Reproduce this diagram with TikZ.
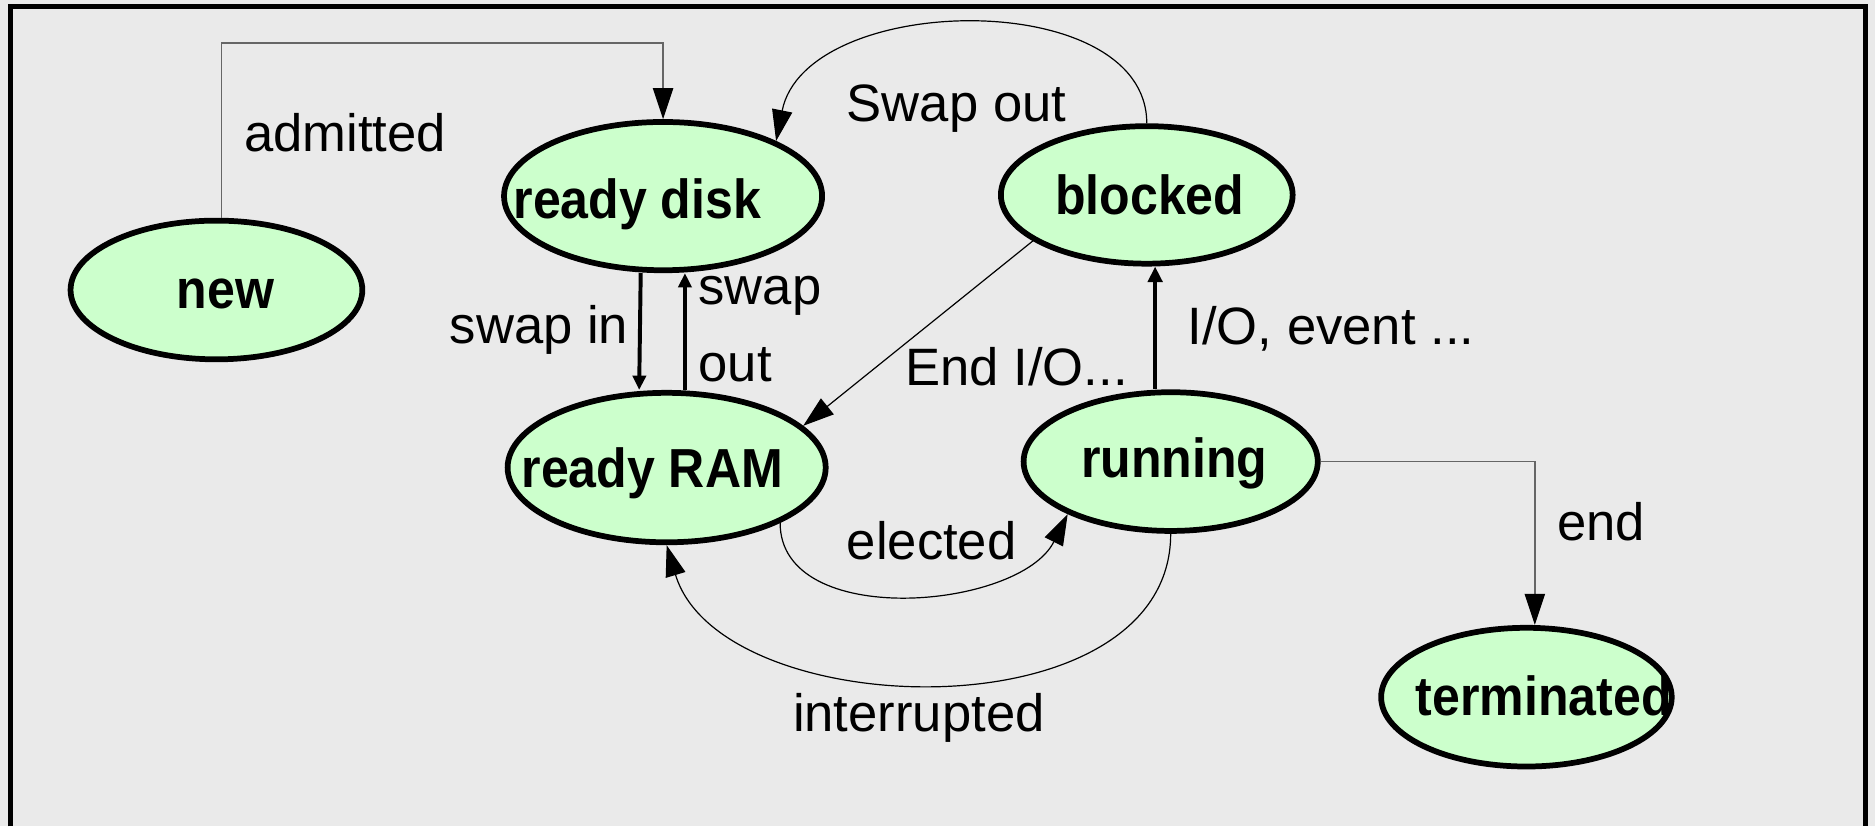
\documentclass[tikz,border=0pt]{standalone}
\usepackage{fontspec}
\setmainfont{Liberation Sans}
\newfontfamily\statefont[FakeStretch=0.91]{Liberation Sans Bold}
\usetikzlibrary{shapes.geometric,arrows.meta}
\definecolor{panelbg}{HTML}{EAEAEA}
\definecolor{statefill}{HTML}{CCFFCC}
\begin{document}
\begin{tikzpicture}[x=1pt,y=-1pt,
  state/.style={ellipse, draw=black, line width=4.8pt, fill=statefill, inner sep=0pt},
  statename/.style={anchor=base, inner sep=0pt, font=\fontsize{46}{52}\statefont},
  lbl/.style={anchor=base west, inner sep=0pt, font=\fontsize{44}{50}\selectfont},
  lightedge/.style={draw=black, line width=1pt, -{Triangle[length=26pt,width=17pt]}},
  wireedge/.style={draw=black!60, line width=1.2pt, -{Triangle[length=26pt,width=17pt,color=black]}},
  heavyedge/.style={draw=black, line width=3.3pt, -{Triangle[length=12pt,width=11pt]}},
]
% canvas and frame
\useasboundingbox (0,0) rectangle (1568,691);
\fill[panelbg] (0,0) rectangle (1568,691);
\draw[line width=4.2pt, line join=miter] (8.4,691) -- (8.4,5.4) -- (1559.7,5.4) -- (1559.7,691);

% states
\node[state, minimum width=244pt, minimum height=116pt] (new) at (181,242.5) {};
\node[state, minimum width=266pt, minimum height=124pt] (rdisk) at (554.5,164) {};
\node[state, minimum width=244pt, minimum height=115pt] (blocked) at (959,163) {};
\node[state, minimum width=266pt, minimum height=125pt] (rram) at (557.5,391) {};
\node[state, minimum width=246pt, minimum height=116pt] (running) at (979,386) {};
\node[state, minimum width=243pt, minimum height=116pt] (terminated) at (1276.5,583) {};

\node[statename] (new-t) at (188.5,257.6) {new};
\node[statename] (rdisk-t) at (533,183) {ready disk};
\node[statename] (blocked-t) at (961.5,179) {blocked};
\node[statename] (rram-t) at (545.5,407.5) {ready RAM};
\node[statename] (running-t) at (982,399) {running};
\node[statename] (terminated-t) at (1291,598.5) {terminated};

% transitions
\coordinate (admit-top) at (0,36);
\draw[wireedge] ([xshift=4pt]new.north) -- ([xshift=4pt]new.north |- admit-top) -| (rdisk.north);
\draw[heavyedge] ([xshift=-18.7pt]rdisk.south) -- ([xshift=-23pt]rram.north);
\draw[heavyedge] ([xshift=15.3pt]rram.north) -- ([xshift=18.3pt]rdisk.south);
\draw[lightedge] (blocked.north) .. controls +(0,-115) and +(25,-125) .. (rdisk.26);
\draw[lightedge] (blocked.-158) -- (rram.17);
\draw[heavyedge, -{Triangle[length=13pt,width=12pt]}] ([xshift=-13pt]running.north) -- ([xshift=7pt]blocked.south);
\draw[lightedge] (rram.-26) .. controls +(0,90) and +(-40,80) .. (running.-153);
\draw[lightedge] (running.south) .. controls +(0,170) and +(45,150) .. (rram.south);
\draw[wireedge] (running.east) -| ([xshift=7pt]terminated.north);

% labels
\node[lbl] (l-admitted) at (204,126.8) {admitted};
\node[lbl] (l-swapout) at (708,101.8) {Swap out};
\node[lbl] (l-swapin) at (376,287) {swap in};
\node[lbl] (l-swap) at (584,255) {swap};
\node[lbl] (l-out) at (584,319) {out};
\node[lbl] (l-endio) at (757,322) {End I/O...};
\node[lbl] (l-ioevent) at (993,288.5) {I/O, event ...};
\node[lbl] (l-elected) at (708,468.3) {elected};
\node[lbl] (l-interrupted) at (663,612) {interrupted};
\node[lbl] (l-end) at (1302,452) {end};
\end{tikzpicture}
\end{document}
